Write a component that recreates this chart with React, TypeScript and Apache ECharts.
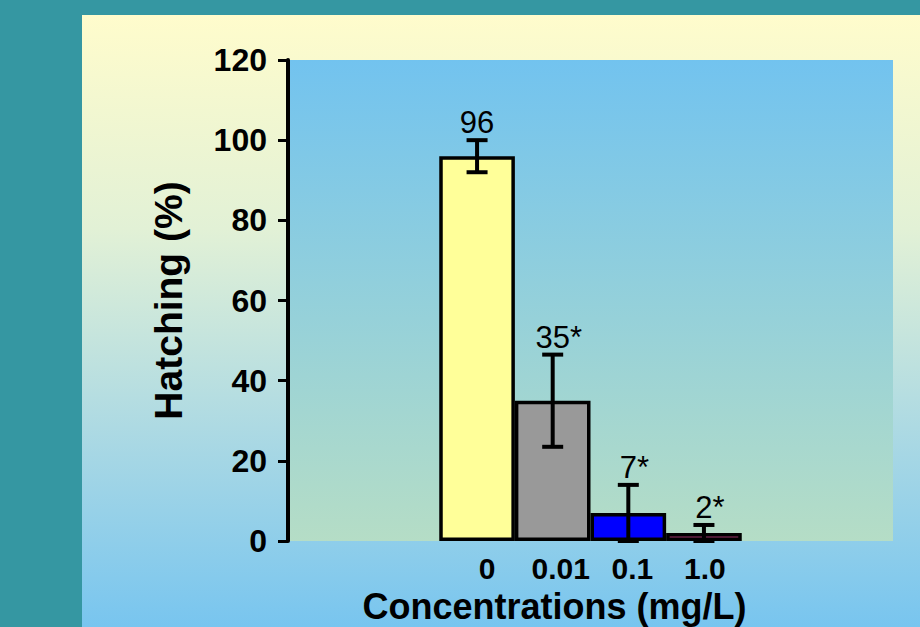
import React, { useEffect, useRef } from "react";
import * as echarts from "echarts";

// ---- data ----
const categories = ["0", "0.01", "0.1", "1.0"];
const hatching = [96, 35, 7, 2];
const hatchingError = [4, 11.5, 7, 2];
const valueLabels = ["96", "35*", "7*", "2*"];
const barColors = ["#ffff99", "#999999", "#0000ff", "#993366"];
const yMin = 0;
const yMax = 120;
const yInterval = 20;

// empty category slots on each side of the bars (layout only)
const leadingSlots = 2;
const trailingSlots = 2;
// small horizontal nudges of the category labels (style only)
const labelNudge = [10, 8, 4, 1];

const FONT = 'Arial, "Liberation Sans", Helvetica, sans-serif';

export default function App() {
  const ref = useRef<HTMLDivElement>(null);

  useEffect(() => {
    if (!ref.current) return;
    const chart = echarts.init(ref.current, null, { renderer: "svg" });

    const slotCats: any[] = [];
    for (let i = 0; i < leadingSlots; i++) slotCats.push({ value: " ".repeat(i + 1) });
    categories.forEach((c, i) =>
      slotCats.push({
        value: c,
        textStyle: { padding: [0, 0, 0, labelNudge[i] * 2] },
      })
    );
    for (let i = 0; i < trailingSlots; i++) slotCats.push({ value: " ".repeat(leadingSlots + i + 1) });

    const barData: any[] = [];
    for (let i = 0; i < leadingSlots; i++) barData.push("-");
    hatching.forEach((v, i) =>
      barData.push({ value: v, itemStyle: { color: barColors[i] } })
    );
    for (let i = 0; i < trailingSlots; i++) barData.push("-");

    const errData = hatching.map((v, i) => [
      leadingSlots + i,
      v,
      hatchingError[i],
      valueLabels[i],
    ]);

    const option: any = {
      animation: false,
      backgroundColor: "#3597a2",
      graphic: [
        {
          type: "rect",
          z: -100,
          shape: { x: 82, y: 15, width: 838, height: 612 },
          style: {
            fill: new echarts.graphic.LinearGradient(0, 0, 0, 1, [
              { offset: 0, color: "#fffccc" },
              { offset: 0.35, color: "#e2f1d6" },
              { offset: 0.7, color: "#a9d8e4" },
              { offset: 1, color: "#78c5ef" },
            ]),
          },
        },
      ],
      grid: {
        left: 288,
        right: 27,
        top: 60,
        bottom: 86,
        outerBoundsMode: "none",
        containLabel: false,
        show: true,
        borderWidth: 0,
        backgroundColor: new echarts.graphic.LinearGradient(0, 0, 0, 1, [
          { offset: 0, color: "#72c3ef" },
          { offset: 1, color: "#b5ddc6" },
        ]),
      },
      xAxis: {
        type: "category",
        data: slotCats,
        boundaryGap: true,
        axisLine: { show: false },
        axisTick: { show: false },
        axisLabel: {
          interval: 0,
          margin: 12,
          color: "#000",
          fontSize: 30,
          lineHeight: 30,
          fontWeight: "bold",
          fontFamily: FONT,
        },
        name: "Concentrations (mg/L)",
        nameLocation: "middle",
        nameGap: 47,
        nameMoveOverlap: false,
        nameTextStyle: {
          color: "#000",
          fontSize: 36,
          lineHeight: 36,
          fontWeight: "bold",
          fontFamily: FONT,
          padding: [0, 72, 0, 0],
        },
      },
      yAxis: {
        type: "value",
        min: yMin,
        max: yMax,
        interval: yInterval,
        splitLine: { show: false },
        axisLine: { show: true, lineStyle: { color: "#000", width: 4 } },
        axisTick: { show: true, length: 10, lineStyle: { color: "#000", width: 3 } },
        axisLabel: {
          margin: 21,
          color: "#000",
          fontSize: 32,
          fontWeight: "bold",
          fontFamily: FONT,
        },
        name: "Hatching (%)",
        nameLocation: "middle",
        nameGap: 100,
        nameMoveOverlap: false,
        nameTextStyle: {
          color: "#000",
          fontSize: 39,
          fontWeight: "bold",
          fontFamily: FONT,
        },
      },
      series: [
        {
          type: "bar",
          data: barData,
          barWidth: "100%",
          barGap: "0%",
          itemStyle: { borderColor: "#000", borderWidth: 3.5 },
        },
        {
          type: "custom",
          data: errData,
          z: 10,
          renderItem: (params: any, api: any) => {
            const idx = api.value(0);
            const v = api.value(1);
            const e = api.value(2);
            const label = errData[params.dataIndex][3] as string;
            const top = api.coord([idx, v + e]);
            const bot = api.coord([idx, Math.max(v - e, 0)]);
            const cap = 10.5;
            const ls = { stroke: "#000", lineWidth: 4 };
            return {
              type: "group",
              children: [
                { type: "line", shape: { x1: top[0], y1: top[1], x2: bot[0], y2: bot[1] }, style: ls },
                { type: "line", shape: { x1: top[0] - cap, y1: top[1], x2: top[0] + cap, y2: top[1] }, style: ls },
                { type: "line", shape: { x1: bot[0] - cap, y1: bot[1], x2: bot[0] + cap, y2: bot[1] }, style: ls },
                {
                  type: "text",
                  x: top[0] + (label.endsWith("*") ? 6 : 0),
                  y: top[1] - 2,
                  style: {
                    text: label,
                    fill: "#000",
                    fontSize: 31,
                    fontFamily: FONT,
                    align: "center",
                    verticalAlign: "bottom",
                  },
                },
              ],
            };
          },
        },
      ],
    };

    chart.setOption(option);
    return () => chart.dispose();
  }, []);

  return (
    <div
      ref={ref}
      style={{ position: "absolute", left: 0, top: 0, width: 920, height: 627 }}
    />
  );
}
